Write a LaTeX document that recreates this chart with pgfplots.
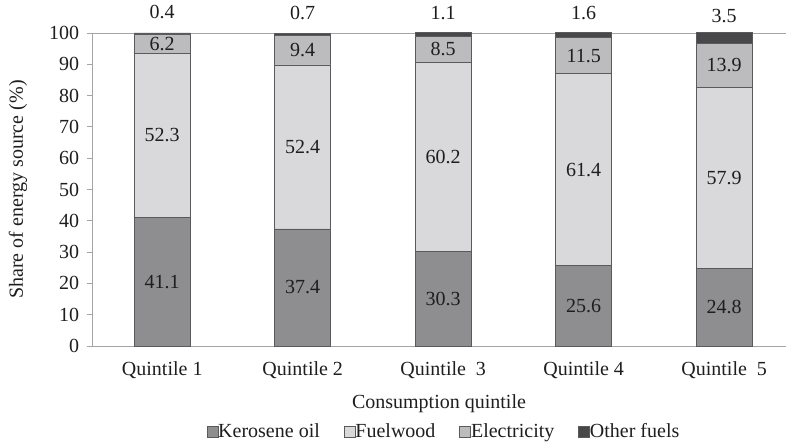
\documentclass[border=0pt]{standalone}
\usepackage{fontspec}
\setmainfont{Liberation Serif}
\usepackage{pgfplots}
\pgfplotsset{compat=1.18}
\definecolor{kero}{RGB}{142,142,145}
\definecolor{wood}{RGB}{217,217,219}
\definecolor{elec}{RGB}{188,188,191}
\definecolor{oth}{RGB}{72,72,74}
\definecolor{edge}{RGB}{90,90,92}
\definecolor{axgray}{RGB}{165,165,165}
\definecolor{txt}{RGB}{30,30,30}
\begin{document}
\fontsize{20}{24}\selectfont
\begin{tikzpicture}[x=1pt,y=1pt]
\useasboundingbox (0,0) rectangle (787,447);
\begin{axis}[
  at={(92pt,101pt)}, anchor=south west,
  scale only axis, width=694pt, height=313pt,
  ybar stacked, bar width=0.4,
  xmin=-0.5, xmax=4.44, ymin=0, ymax=100,
  clip=false,
  xtick={0,1,2,3,4},
  xticklabels={Quintile 1,Quintile 2,Quintile\ \ 3,Quintile 4,Quintile\ \ 5},
  major x tick style={draw=none},
  extra x ticks={-0.5,0.5,1.5,2.5,3.5},
  extra x tick labels={},
  extra x tick style={major tick length=6pt, tick style={draw=axgray, line width=0.8pt}},
  ytick={0,10,...,100},
  extra y ticks={100}, extra y tick labels={},
  extra y tick style={ymajorgrids=true, major grid style={draw=axgray, line width=0.9pt}},
  tick align=outside, tick pos=left,
  major tick length=5pt,
  tick style={draw=axgray, line width=0.8pt},
  axis x line*=bottom, axis y line*=left,
  axis line style={draw=axgray, line width=0.9pt, -},
  /pgf/number format/assume math mode=true,
  tick label style={text=txt},
  yticklabel style={xshift=-1pt},
  xticklabel style={yshift=-4pt},
  ylabel={Share of energy source (\%)},
  ylabel style={at={(axis description cs:-0.1066,0.5)}, anchor=center, text=txt},
  xlabel={Consumption quintile},
  xlabel style={at={(axis description cs:0.5,0)}, anchor=center, yshift=-58pt, text=txt},
  legend style={at={(axis description cs:0.5,0)}, anchor=center, yshift=-86pt, xshift=5pt, draw=none, fill=none,
    legend columns=4, text=txt, /tikz/every even column/.append style={column sep=22pt},
    /tikz/every odd column/.append style={column sep=-2pt},
    legend cell align=left},
  legend image code/.code={\draw[#1, draw=edge, line width=0.6pt] (0pt,-5.5pt) rectangle (11pt,5.5pt);},
  every axis plot/.append style={draw=edge, line width=0.8pt},
  visualization depends on=rawy \as \rawy,
  nodes near coords={\pgfmathprintnumber[fixed,precision=1,fixed zerofill]{\rawy}},
  nodes near coords style={text=txt, font=\fontsize{20}{24}\selectfont},
]
\addplot[fill=kero, every node near coord/.append style={anchor=center}] coordinates {(0,41.1) (1,37.4) (2,30.3) (3,25.6) (4,24.8)};
\addplot[fill=wood, every node near coord/.append style={anchor=center}] coordinates {(0,52.3) (1,52.4) (2,60.2) (3,61.4) (4,57.9)};
\addplot[fill=elec, every node near coord/.append style={anchor=center}] coordinates {(0,6.2) (1,9.4) (2,8.5) (3,11.5) (4,13.9)};
\addplot[fill=oth, every node near coord/.append style={anchor=south, yshift=8pt}] coordinates {(0,0.4) (1,0.7) (2,1.1) (3,1.6) (4,3.5)};
\legend{Kerosene oil,Fuelwood,Electricity,Other fuels}
\end{axis}
\end{tikzpicture}
\end{document}
